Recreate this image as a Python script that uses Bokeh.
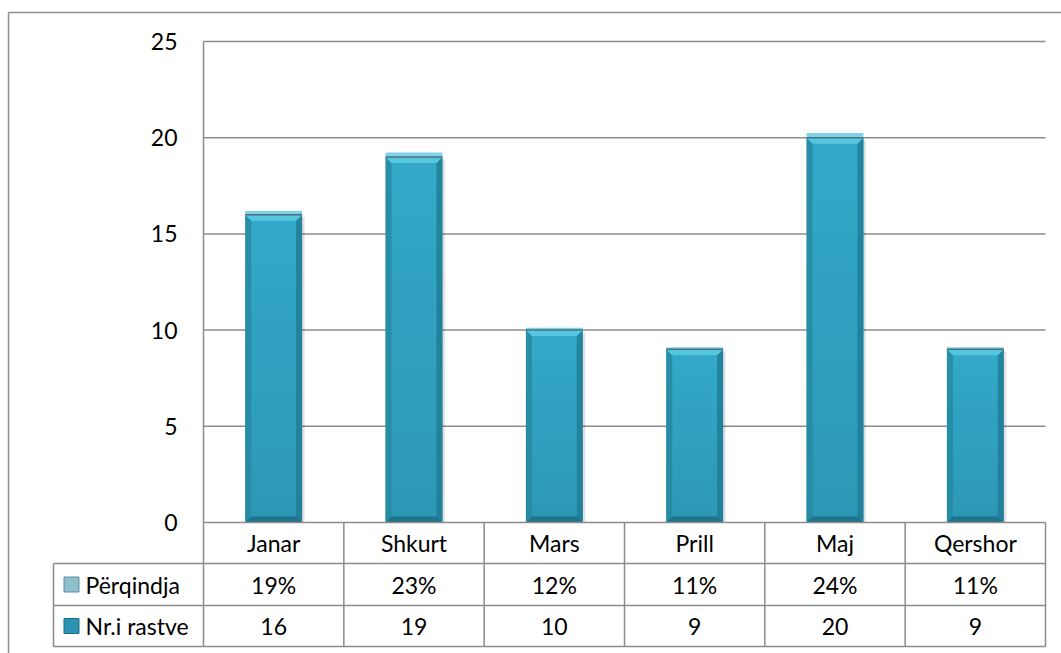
from bokeh.plotting import figure
from bokeh.models import Range1d
from bokeh.core.properties import value
from bokeh.embed import file_html
from bokeh.resources import INLINE

# ---- data ----
categories = ["Janar", "Shkurt", "Mars", "Prill", "Maj", "Qershor"]
nr_rastve = [16, 19, 10, 9, 20, 9]
perqindja = [0.19, 0.23, 0.12, 0.11, 0.24, 0.11]
perqindja_labels = ["19%", "23%", "12%", "11%", "24%", "11%"]
series_names = ["Përqindja", "Nr.i rastve"]
y_ticks = [0, 5, 10, 15, 20, 25]

# ---- layout (pixels) ----
W, H = 1061, 653
X0_PX = 203.0            # x of plot-area left edge
PX_PER_X = (1045.0 - 203.0) / len(categories)
Y0_PX = 522.0            # y (from top) of value 0
PX_PER_Y = (522.0 - 41.0) / 25.0

def px2x(px):
    return (px - X0_PX) / PX_PER_X

def py2y(py):
    return (Y0_PX - py) / PX_PER_Y

FONT = "Lato"
FS = "23px"
GRID = "#8c8c8c"

p = figure(width=W, height=H, output_backend="svg", toolbar_location=None,
           x_range=Range1d(px2x(0), px2x(W)), y_range=Range1d(py2y(H), py2y(0)),
           min_border=0, x_axis_location=None, y_axis_location=None,
           background_fill_color="white", border_fill_color="white")
p.outline_line_color = None
p.xgrid.visible = False
p.ygrid.visible = False

n = len(categories)
xc = [i + 0.5 for i in range(n)]
row1 = py2y(563)
row2 = py2y(605)
row3 = py2y(646)
leg_left = px2x(53)

# outer chart border
p.segment(x0=[px2x(8), px2x(8)], y0=[py2y(12), py2y(12)],
          x1=[px2x(W + 5), px2x(8)], y1=[py2y(12), py2y(H + 5)],
          line_color="#8e8e8e", line_width=1.5)

# gridlines
gl = [t for t in y_ticks if t > 0]
p.segment(x0=[0] * len(gl), y0=gl, x1=[n] * len(gl), y1=gl, line_color=GRID, line_width=1.5)

# bars
bw = 0.405
left = [c - bw / 2 for c in xc]
right = [c + bw / 2 for c in xc]
# soft shadow
sx = 2.5 / PX_PER_X
sy = 2.5 / PX_PER_Y
p.quad(left=[l + sx for l in left], right=[r + sx for r in right], bottom=[0] * n,
       top=[v - sy for v in nr_rastve], fill_color="#000000", fill_alpha=0.12, line_color=None)
p.quad(left=left, right=right, bottom=[0] * n, top=nr_rastve,
       fill_color="#33a8c8", line_color=None)
# vertical darkening toward bottom
steps = 12
for k in range(steps):
    f0 = k / steps
    f1 = (k + 1) / steps
    p.quad(left=left, right=right, bottom=[v * f0 for v in nr_rastve],
           top=[v * f1 for v in nr_rastve], fill_color="#1c6f88",
           fill_alpha=0.3 * (1 - f1), line_color=None)

bx = 6.0 / PX_PER_X
by = 6.0 / PX_PER_Y
top_xs, top_ys, side_xs, side_ys, side_c = [], [], [], [], []
for l, r, v in zip(left, right, nr_rastve):
    top_xs.append([l, r, r - bx, l + bx])
    top_ys.append([v, v, v - by, v - by])
    side_xs += [[l, l + bx, l + bx, l], [r, r - bx, r - bx, r], [l, r, r - bx, l + bx]]
    side_ys += [[v, v - by, by, 0], [v, v - by, by, 0], [0, 0, by, by]]
    side_c += ["#26889f", "#1f7a94", "#1b6a80"]
p.patches(xs=side_xs, ys=side_ys, fill_color=side_c, fill_alpha=0.8, line_color=None)
p.patches(xs=top_xs, ys=top_ys, fill_color="#55c6e0", line_color=None)

# Përqindja segment stacked on top
ptop = [a + b for a, b in zip(nr_rastve, perqindja)]
p.quad(left=left, right=right, bottom=nr_rastve, top=ptop,
       fill_color="#7fd3e8", line_color=None)
p.segment(x0=left, y0=nr_rastve, x1=right, y1=nr_rastve, line_color="#4f6f7c", line_width=1.5)

# zero line / table lines
p.segment(x0=[0, leg_left, leg_left, leg_left], y0=[0, row1, row2, row3],
          x1=[n, n, n, n], y1=[0, row1, row2, row3], line_color=GRID, line_width=1.5)
vx = list(range(0, n + 1))
p.segment(x0=vx, y0=[0] * len(vx), x1=vx, y1=[row3] * len(vx), line_color=GRID, line_width=1.5)
p.segment(x0=[0], y0=[25], x1=[0], y1=[0], line_color=GRID, line_width=1.5)
p.segment(x0=[leg_left], y0=[row1], x1=[leg_left], y1=[row3], line_color=GRID, line_width=1.5)

# y tick labels
p.text(x=[px2x(177)] * len(y_ticks), y=y_ticks, text=[str(t) for t in y_ticks],
       text_align="right", text_baseline="middle", text_font=value(FONT),
       text_font_size=FS, text_color="#000000")

# table texts
ymid_h = (0 + row1) / 2
ymid_1 = (row1 + row2) / 2
ymid_2 = (row2 + row3) / 2
p.text(x=xc, y=[ymid_h] * n, text=categories, text_align="center", text_baseline="middle",
       text_font=value(FONT), text_font_size=FS, text_color="#000000")
p.text(x=xc, y=[ymid_1] * n, text=perqindja_labels, text_align="center", text_baseline="middle",
       text_font=value(FONT), text_font_size=FS, text_color="#000000")
p.text(x=xc, y=[ymid_2] * n, text=[str(v) for v in nr_rastve], text_align="center",
       text_baseline="middle", text_font=value(FONT), text_font_size=FS, text_color="#000000")

# legend keys in table
p.rect(x=[px2x(71)] * 2, y=[ymid_1, ymid_2], width=15, height=15,
       width_units="screen", height_units="screen",
       fill_color=["#8fbfcf", "#2a93b2"], line_color=["#5c8ea0", "#1d6f88"])
p.text(x=[px2x(85)] * 2, y=[ymid_1, ymid_2], text=series_names, text_align="left",
       text_baseline="middle", text_font=value(FONT), text_font_size=FS, text_color="#000000")

open("out.html", "w").write(file_html(p, INLINE))
